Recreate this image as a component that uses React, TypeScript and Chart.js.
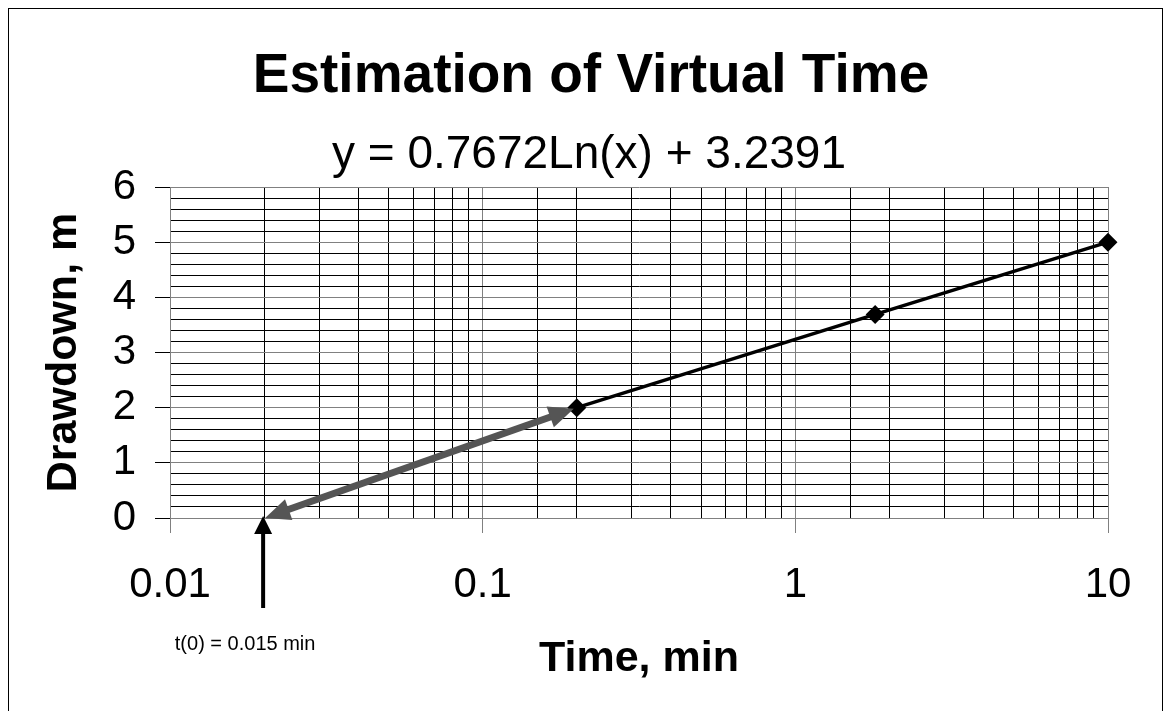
import React, { useEffect, useRef } from 'react';
import { Chart, registerables } from 'chart.js';

Chart.register(...registerables);

// ---- data ----
const timeMin = [0.2, 1.8, 10];
const drawdownM = [2.0, 3.69, 5.0];
const xTickLabels = ['0.01', '0.1', '1', '10'];
const yTickLabels = ['0', '1', '2', '3', '4', '5', '6'];
const titleText = 'Estimation of Virtual Time';
const equationText = 'y = 0.7672Ln(x) + 3.2391';
const xAxisTitle = 'Time, min';
const yAxisTitle = 'Drawdown, m';
const arrowStart = [0.2, 2.0]; // gray double arrow end (x, y)
const arrowEnd = [0.02, 0.0]; // gray double arrow end on the x axis (x, y)
const t0Label = 't(0) = 0.015 min';

const FONT = '"Liberation Sans", Arial, sans-serif';

function drawArrowHead(ctx: CanvasRenderingContext2D, fx: number, fy: number, tx: number, ty: number, len: number, half: number) {
  const a = Math.atan2(ty - fy, tx - fx);
  ctx.beginPath();
  ctx.moveTo(tx, ty);
  ctx.lineTo(tx - len * Math.cos(a) + half * Math.sin(a), ty - len * Math.sin(a) - half * Math.cos(a));
  ctx.lineTo(tx - len * Math.cos(a) - half * Math.sin(a), ty - len * Math.sin(a) + half * Math.cos(a));
  ctx.closePath();
  ctx.fill();
}

function drawShaft(ctx: CanvasRenderingContext2D, fx: number, fy: number, tx: number, ty: number, inset1: number, inset2: number) {
  const a = Math.atan2(ty - fy, tx - fx);
  ctx.beginPath();
  ctx.moveTo(fx + inset1 * Math.cos(a), fy + inset1 * Math.sin(a));
  ctx.lineTo(tx - inset2 * Math.cos(a), ty - inset2 * Math.sin(a));
  ctx.stroke();
}

const headerPlugin = {
  id: 'header',
  afterDraw(chart: any) {
    const { ctx } = chart;
    ctx.save();
    ctx.fillStyle = '#000';
    ctx.textAlign = 'center';
    ctx.textBaseline = 'middle';
    ctx.font = `bold 55px ${FONT}`;
    ctx.fillText(titleText, 582, 68);
    ctx.font = `46px ${FONT}`;
    ctx.fillText(equationText, 580, 146);
    ctx.restore();
  },
};

const annotatePlugin = {
  id: 'annotate',
  afterDatasetsDraw(chart: any) {
    const { ctx, scales } = chart;
    const xs = scales.x;
    const ys = scales.y;
    ctx.save();
    // gray double-headed arrow
    const ax1 = xs.getPixelForValue(arrowStart[0]);
    const ay1 = ys.getPixelForValue(arrowStart[1]);
    const ax2 = xs.getPixelForValue(arrowEnd[0]);
    const ay2 = ys.getPixelForValue(arrowEnd[1]);
    ctx.strokeStyle = '#555555';
    ctx.fillStyle = '#555555';
    ctx.lineWidth = 7;
    ctx.lineCap = 'butt';
    drawShaft(ctx, ax2, ay2, ax1, ay1, 16, 16);
    drawArrowHead(ctx, ax2, ay2, ax1 - 3, ay1 + 1, 25, 11);
    drawArrowHead(ctx, ax1, ay1, ax2 + 1, ay2, 25, 11);
    // black vertical arrow
    const bx = xs.getPixelForValue(arrowEnd[0]) - 1;
    const btip = ys.getPixelForValue(arrowEnd[1]) - 2;
    const bbot = ys.getPixelForValue(arrowEnd[1]) + 90;
    ctx.strokeStyle = '#000';
    ctx.fillStyle = '#000';
    ctx.lineWidth = 4;
    drawShaft(ctx, bx, bbot, bx, btip, 0, 12);
    drawArrowHead(ctx, bx, bbot, bx, btip, 18, 9);
    // label
    ctx.font = `20px ${FONT}`;
    ctx.textAlign = 'center';
    ctx.textBaseline = 'alphabetic';
    ctx.fillText(t0Label, bx - 18, ys.getPixelForValue(0) + 132);
    ctx.restore();
  },
};

const isDecade = (v: number) => Math.abs(Math.log10(v) - Math.round(Math.log10(v))) < 1e-6;
const isInt = (v: number) => Math.abs(v - Math.round(v)) < 1e-6;

export default function App() {
  const ref = useRef<HTMLCanvasElement | null>(null);
  useEffect(() => {
    if (!ref.current) return;
    const chart = new Chart(ref.current, {
      type: 'scatter',
      data: {
        datasets: [
          {
            data: timeMin.map((t, i) => ({ x: t, y: drawdownM[i] })),
            showLine: true,
            borderColor: '#000',
            borderWidth: 3.5,
            pointStyle: 'rectRot',
            pointRadius: 7,
            pointBackgroundColor: '#000',
            pointBorderColor: '#000',
            clip: 12,
          } as any,
        ],
      },
      options: {
        animation: false,
        responsive: false,
        devicePixelRatio: 1,
        layout: { padding: { top: 178, right: 54, left: 0, bottom: 0 } },
        plugins: { legend: { display: false }, tooltip: { enabled: false } },
        scales: {
          x: {
            type: 'logarithmic',
            min: 0.01,
            max: 10,
            afterFit: (s: any) => { s.height = 193; },
            border: { color: '#808080', width: 1 },
            grid: {
              color: (c: any) => (isDecade(c.tick.value) ? '#808080' : '#000000'),
              lineWidth: 1,
              tickLength: 15,
              tickColor: (c: any) => (isDecade(c.tick.value) ? '#808080' : 'rgba(0,0,0,0)'),
            },
            ticks: {
              autoSkip: false,
              maxRotation: 0,
              padding: 27,
              color: '#000',
              font: { family: FONT, size: 42 },
              callback: (v: any) => (isDecade(Number(v)) ? xTickLabels[Math.round(Math.log10(Number(v))) + 2] : ''),
            },
            title: {
              display: true,
              text: xAxisTitle,
              color: '#000',
              font: { family: FONT, size: 43, weight: 'bold' },
              padding: { top: 0, bottom: 26 },
            },
          },
          y: {
            type: 'linear',
            min: 0,
            max: 6,
            afterFit: (s: any) => { s.width = 161; },
            border: { color: '#808080', width: 1 },
            grid: {
              color: (c: any) => (isInt(c.tick.value) ? '#808080' : '#000000'),
              lineWidth: 1,
              tickLength: 15,
              tickColor: (c: any) => (isInt(c.tick.value) ? '#000000' : 'rgba(0,0,0,0)'),
            },
            ticks: {
              stepSize: 0.2,
              autoSkip: false,
              padding: 19,
              color: '#000',
              font: { family: FONT, size: 42 },
              callback: (v: any) => (isInt(Number(v)) ? yTickLabels[Math.round(Number(v))] : ''),
            },
            title: {
              display: true,
              text: yAxisTitle,
              color: '#000',
              font: { family: FONT, size: 43, weight: 'bold' },
              padding: { top: 29, bottom: 0 },
            },
          },
        },
      },
      plugins: [headerPlugin, annotatePlugin],
    });
    return () => chart.destroy();
  }, []);

  return (
    <div
      style={{
        width: 1153,
        height: 702,
        borderTop: '1px solid #000',
        borderLeft: '1px solid #000',
        borderRight: '1px solid #000',
        background: '#fff',
      }}
    >
      <canvas ref={ref} width={1153} height={702} style={{ display: 'block' }} />
    </div>
  );
}
